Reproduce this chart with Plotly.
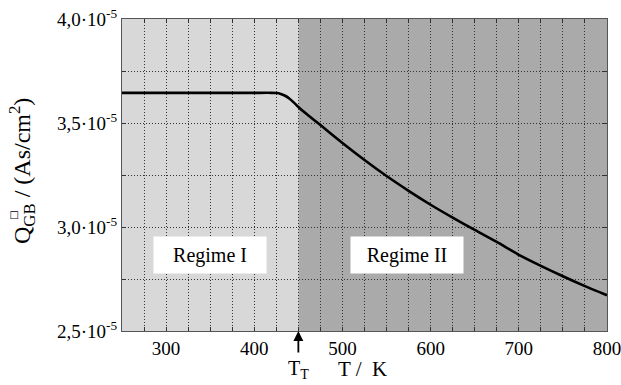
import plotly.graph_objects as go

# Data
T_vals = [250, 300, 350, 400, 420, 425, 430, 435, 440, 445, 450, 460, 475, 500,
          525, 550, 575, 600, 625, 650, 675, 700, 725, 750, 775, 800]
Q_vals = [3.645e-5, 3.645e-5, 3.645e-5, 3.645e-5, 3.645e-5, 3.644e-5, 3.640e-5,
          3.631e-5, 3.617e-5, 3.598e-5, 3.577e-5, 3.541e-5, 3.490e-5, 3.404e-5,
          3.322e-5, 3.245e-5, 3.174e-5, 3.107e-5, 3.045e-5, 2.986e-5, 2.928e-5,
          2.866e-5, 2.813e-5, 2.763e-5, 2.716e-5, 2.672e-5]
x_ticks = [300, 400, 500, 600, 700, 800]
y_ticks = [2.5e-5, 3.0e-5, 3.5e-5, 4.0e-5]
y_ticktext = ["2,5·10<sup>-5</sup>", "3,0·10<sup>-5</sup>", "3,5·10<sup>-5</sup>", "4,0·10<sup>-5</sup>"]
T_transition = 450
x_range = [250, 800]
y_range = [2.5e-5, 4.0e-5]
regime_labels = ["Regime I", "Regime II"]
regime_label_x = [350, 573]
regime_label_y = 2.865e-5

FONT = "Liberation Serif, Times New Roman, serif"
GRID_DASH = "1px,2px"

fig = go.Figure()
fig.add_trace(go.Scatter(x=T_vals, y=Q_vals, mode="lines",
                         line=dict(color="black", width=2.6, shape="spline", smoothing=0.6),
                         showlegend=False))

# Background regions
fig.add_shape(type="rect", xref="x", yref="paper", x0=x_range[0], x1=T_transition,
              y0=0, y1=1, fillcolor="#d8d8d8", line_width=0, layer="below")
fig.add_shape(type="rect", xref="x", yref="paper", x0=T_transition, x1=x_range[1],
              y0=0, y1=1, fillcolor="#aaaaaa", line_width=0, layer="below")

for lab, lx in zip(regime_labels, regime_label_x):
    fig.add_annotation(x=lx, y=regime_label_y, text=lab, showarrow=False,
                       bgcolor="white", width=110, height=34,
                       font=dict(family=FONT, size=20, color="black"))

# T_T arrow
fig.add_annotation(x=T_transition, y=0, xref="x", yref="paper", ax=0, ay=23,
                   text="", showarrow=True, arrowhead=2, arrowsize=1.1,
                   arrowwidth=1.8, arrowcolor="black", standoff=0)
fig.add_annotation(x=T_transition, y=0, xref="x", yref="paper", yshift=-38,
                   text="T<sub>T</sub>", showarrow=False, yanchor="middle",
                   font=dict(family=FONT, size=20, color="black"))
fig.add_annotation(x=(362 - 122) / 485, y=0, xref="paper", yref="paper", yshift=-38,
                   text="T /\u00a0 K", showarrow=False, yanchor="middle",
                   font=dict(family=FONT, size=21, color="black"))

# Y axis title
fig.add_annotation(x=0, y=0.5, xref="paper", yref="paper", xshift=-100, yshift=4,
                   xanchor="center", yanchor="middle",
                   text="Q<sub>GB</sub> / (As/cm<sup>2</sup>)", textangle=-90,
                   showarrow=False, font=dict(family=FONT, size=24, color="black"))
fig.add_annotation(x=0, y=0.5, xref="paper", yref="paper", xshift=-109, yshift=-41,
                   xanchor="center", yanchor="middle",
                   text="□", textangle=-90,
                   showarrow=False, font=dict(family="DejaVu Sans", size=10, color="black"))

axis_common = dict(showline=True, linecolor="#555", linewidth=1, mirror="ticks",
                   ticks="inside", ticklen=4, tickcolor="#333",
                   showgrid=True, gridcolor="#333", griddash=GRID_DASH, gridwidth=1,
                   zeroline=False, ticklabeloverflow="allow", automargin=False,
                   tickfont=dict(family=FONT, size=19, color="black"))

fig.update_xaxes(range=x_range, tickmode="array", tickvals=x_ticks,
                 minor=dict(dtick=25, tick0=250, ticks="inside", ticklen=4, tickcolor="#333",
                            showgrid=True, gridcolor="#333", griddash=GRID_DASH, gridwidth=1),
                 **axis_common)
fig.update_yaxes(range=y_range, tickmode="array", tickvals=y_ticks, ticktext=y_ticktext,
                 minor=dict(dtick=0.25e-5, tick0=2.5e-5, ticks="inside", ticklen=4, tickcolor="#333",
                            showgrid=True, gridcolor="#333", griddash=GRID_DASH, gridwidth=1),
                 **axis_common)

fig.update_layout(width=621, height=385, margin=dict(l=122, r=14, t=19, b=54),
                  plot_bgcolor="rgba(0,0,0,0)", paper_bgcolor="white",
                  font=dict(family=FONT, size=19, color="black"))

fig.write_html("out.html")
